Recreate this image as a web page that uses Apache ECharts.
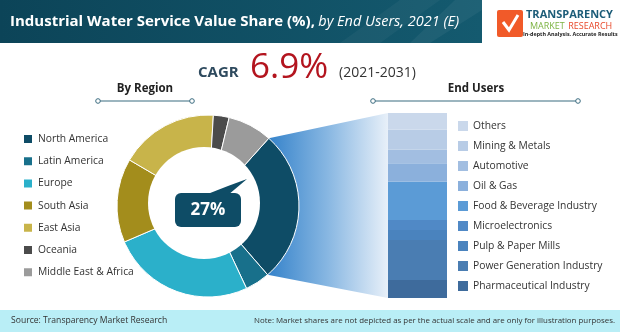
<!DOCTYPE html>
<html><head><meta charset="utf-8">
<script src="https://cdn.jsdelivr.net/npm/echarts@6/dist/echarts.min.js"></script>
<style>html,body{margin:0;padding:0;background:#fff}#c{width:620px;height:332px}</style>
</head><body><div id="c"></div>
<script>
// ---- data ----
const regions = ['North America','Latin America','Europe','South Asia','East Asia','Oceania','Middle East & Africa'];
const regionShares = [27, 4.4, 25.5, 14.9, 17.5, 2.8, 7.9];
const regionColors = ['#0e4c66','#18708b','#2bb0ca','#a38d1c','#c8b44a','#4b4b4b','#9b9b9b'];
const endUsers = ['Others','Mining & Metals','Automotive','Oil & Gas','Food & Beverage Industry','Microelectronics','Pulp & Paper Mills','Power Generation Industry','Pharmaceutical Industry'];
const endUserShares = [9.1, 10.8, 7.2, 9.9, 20.8, 5.4, 5.4, 21.7, 9.7];
const endUserColors = ['#cad8eb','#b8cce6','#a2bee1','#8bb0dc','#5b9bd6','#5089c6','#4a83be','#4a7db2','#3e6b9c'];
const highlightLabel = '27%';
const titleMain = 'Industrial Water Service Value Share (%),';
const titleSub = 'by End Users, 2021 (E)';

// ---- layout ----
const F = '"Open Sans", "Noto Sans", sans-serif';
const pieC = [208, 206], pieR = 91, startAngle = 48.1;
const hole = [204, 203, 56];
const bar = {left: 388, top: 113, width: 59, height: 185};

const chart = echarts.init(document.getElementById('c'), null, {renderer: 'canvas'});
const total = endUserShares.reduce((a, b) => a + b, 0);
const regTotal = regionShares.reduce((a, b) => a + b, 0);
const a1 = startAngle * Math.PI / 180;
const a2 = (startAngle - 360 * regionShares[0] / regTotal) * Math.PI / 180;
const p1 = [pieC[0] + pieR * Math.cos(a1), pieC[1] - pieR * Math.sin(a1)];
const p2 = [pieC[0] + pieR * Math.cos(a2), pieC[1] - pieR * Math.sin(a2)];

const barSeries = endUsers.map((n, i) => ({
  name: n, type: 'bar', stack: 'eu', barWidth: '100%', z: 3,
  data: [endUserShares[i]], itemStyle: {color: endUserColors[i]}, silent: true
})).reverse();

function sepLine(x1, x2, y) {
  return [
    {type: 'line', shape: {x1: x1, y1: y, x2: x2, y2: y}, style: {stroke: '#3b6c80', lineWidth: 1.2}, z: 5},
    {type: 'circle', shape: {cx: x1, cy: y, r: 2.3}, style: {fill: '#fff', stroke: '#3b6c80', lineWidth: 1}, z: 6},
    {type: 'circle', shape: {cx: x2, cy: y, r: 2.3}, style: {fill: '#fff', stroke: '#3b6c80', lineWidth: 1}, z: 6}
  ];
}

const graphics = [
  // header
  {type: 'rect', shape: {x: 0, y: 0, width: 482, height: 43}, z: 0,
   style: {fill: new echarts.graphic.LinearGradient(0, 0, 1, 0, [{offset: 0, color: '#0c4458'}, {offset: 1, color: '#145a6f'}])}},
  {type: 'polygon', shape: {points: [[400, 0], [440, 0], [380, 43], [340, 43]]}, style: {fill: 'rgba(255,255,255,0.04)'}, z: 1},
  {type: 'polygon', shape: {points: [[455, 0], [482, 0], [482, 10], [430, 43], [410, 43]]}, style: {fill: 'rgba(255,255,255,0.05)'}, z: 1},
  {type: 'text', x: 10, y: 22, z: 2, style: {
    text: '{a|' + titleMain + '} {b|' + titleSub + '}', verticalAlign: 'middle',
    rich: {a: {fill: '#fff', fontFamily: F, fontWeight: 'bold', fontSize: 15},
           b: {fill: '#fff', fontFamily: F, fontStyle: 'italic', fontSize: 14.5}}}},
  // logo
  {type: 'rect', shape: {x: 497, y: 10, width: 26, height: 27, r: 2}, style: {fill: '#f15a29'}, z: 2},
  {type: 'polyline', shape: {points: [[503, 22], [509, 30], [518, 15]]}, style: {stroke: '#fff', lineWidth: 3, fill: null}, z: 3},
  {type: 'text', x: 526, y: 15, z: 2, style: {text: 'TRANSPARENCY', fill: '#1c5c78', fontFamily: F, fontWeight: 'bold', fontSize: 11, verticalAlign: 'middle'}},
  {type: 'text', x: 530, y: 26, z: 2, style: {text: '{g|MARKET} {r|RESEARCH}', verticalAlign: 'middle',
    rich: {g: {fill: '#7cb342', fontFamily: F, fontSize: 9}, r: {fill: '#e8492b', fontFamily: F, fontSize: 9}}}},
  {type: 'text', x: 523, y: 34.5, z: 2, style: {text: 'In-depth Analysis. Accurate Results', fill: '#222', fontFamily: F, fontWeight: 'bold', fontSize: 5.4, verticalAlign: 'middle'}},
  // CAGR
  {type: 'text', x: 198, y: 73, z: 2, style: {text: 'CAGR', fill: '#2e4a5e', fontFamily: F, fontWeight: 'bold', fontSize: 15, verticalAlign: 'middle'}},
  {type: 'text', x: 250, y: 68, z: 2, style: {text: '6.9%', fill: '#b3141e', fontFamily: F, fontSize: 35, verticalAlign: 'middle'}},
  {type: 'text', x: 339, y: 73, z: 2, style: {text: '(2021-2031)', fill: '#333', fontFamily: F, fontSize: 14, verticalAlign: 'middle'}},
  // section heads
  {type: 'text', x: 145, y: 89, z: 2, style: {text: 'By Region', fill: '#222', fontFamily: F, fontWeight: 'bold', fontSize: 11.5, align: 'center', verticalAlign: 'middle'}},
  {type: 'text', x: 476, y: 89, z: 2, style: {text: 'End Users', fill: '#222', fontFamily: F, fontWeight: 'bold', fontSize: 11.5, align: 'center', verticalAlign: 'middle'}},
  ...sepLine(98, 192, 101),
  ...sepLine(373, 578, 101),
  // funnel connector
  {type: 'polygon', z: 0, shape: {points: [p1, [bar.left, bar.top], [bar.left, bar.top + bar.height], p2]},
   style: {fill: new echarts.graphic.LinearGradient(0, 0, 1, 0, [{offset: 0, color: '#3482ca'}, {offset: 0.5, color: '#88b7e2'}, {offset: 1, color: '#e8f0f9'}])}},
  // donut hole
  {type: 'circle', z: 100, shape: {cx: hole[0], cy: hole[1], r: hole[2]}, style: {fill: '#fff'}},
  // callout
  {type: 'polygon', z: 101, shape: {points: [[205, 195], [228, 195], [247, 179], [228, 186]]}, style: {fill: '#0e4c66'}},
  {type: 'rect', z: 101, shape: {x: 175, y: 193, width: 66, height: 34, r: 6}, style: {fill: '#0e4c66'}},
  {type: 'text', z: 102, x: 208, y: 210, style: {text: highlightLabel, fill: '#fff', fontFamily: F, fontWeight: 'bold', fontSize: 17, align: 'center', verticalAlign: 'middle'}},
  // footer
  {type: 'rect', z: 0, shape: {x: 0, y: 310, width: 620, height: 22}, style: {fill: '#b9eef6'}},
  {type: 'text', z: 2, x: 11, y: 321, style: {text: 'Source: Transparency Market Research', fill: '#333', fontFamily: F, fontSize: 8.6, verticalAlign: 'middle'}},
  {type: 'text', z: 2, x: 615, y: 321, style: {text: 'Note: Market shares are not depicted as per the actual scale and are only for illustration purposes.', fill: '#333', fontFamily: F, fontSize: 7.9, align: 'right', verticalAlign: 'middle'}}
];

chart.setOption({
  animation: false,
  backgroundColor: '#fff',
  grid: {left: bar.left, top: bar.top, width: bar.width, height: bar.height},
  xAxis: {type: 'category', data: [''], show: false},
  yAxis: {type: 'value', min: 0, max: total, show: false},
  legend: [
    {data: regions, orient: 'vertical', left: 22, top: 133, padding: 0, itemWidth: 10, itemHeight: 10, itemGap: 10.2, icon: 'rect',
     selectedMode: false, textStyle: {fontFamily: F, fontSize: 10.3, color: '#333', lineHeight: 12}},
    {data: endUsers, orient: 'vertical', left: 458, top: 120, padding: 0, itemWidth: 10, itemHeight: 10, itemGap: 8, icon: 'rect',
     selectedMode: false, textStyle: {fontFamily: F, fontSize: 10.3, color: '#333', lineHeight: 12}}
  ],
  graphic: graphics,
  series: [
    {type: 'pie', center: pieC, radius: [0, pieR], startAngle: startAngle, clockwise: true, z: 2, silent: true,
     label: {show: false}, labelLine: {show: false},
     itemStyle: {borderColor: '#fff', borderWidth: 1},
     data: regions.map((n, i) => ({name: n, value: regionShares[i], itemStyle: {color: regionColors[i]}}))},
    ...barSeries
  ]
});
</script></body></html>
